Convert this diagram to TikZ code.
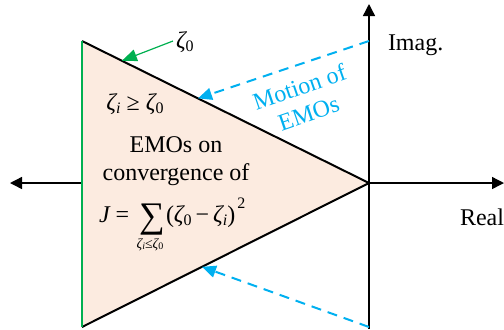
\documentclass[tikz,border=0pt]{standalone}
\usepackage{fontspec}
\setmainfont{Liberation Serif}
\usetikzlibrary{arrows.meta,calc}
\definecolor{peach}{RGB}{252,235,224}
\definecolor{emoblue}{RGB}{0,176,240}
\definecolor{emogreen}{RGB}{0,176,80}
\newcommand\mysb[1]{\raisebox{-0.35ex}{\fontsize{8}{8}\selectfont #1}}
\newcommand\zt{{\itshape ζ}}
\begin{document}
\begin{tikzpicture}[x=0.5pt,y=-0.5pt,
  every node/.style={inner sep=0pt,outer sep=0pt,font=\fontsize{12}{14}\selectfont},
  axis/.style={line width=0.7pt,-{Triangle[length=6pt,width=6pt]}},
  motion/.style={emoblue,line width=1pt,dash pattern=on 5pt off 3.5pt,-{Triangle[length=7pt,width=6pt]}},
  zeta0arrow/.style={emogreen,line width=0.6pt,-{Triangle[length=7.5pt,width=6pt]}}]
\useasboundingbox (0,0) rectangle (504,329);
\coordinate (TL) at (82,41);
\coordinate (BL) at (82,327);
\coordinate (O) at (369,183);
\coordinate (XL) at (10,183);
\coordinate (XR) at (504,183);
\coordinate (YT) at (369,4);
\coordinate (YB) at (369,329);
\coordinate (M1) at (369,41);
\coordinate (M2) at (369,327);
\coordinate (E1) at ($(TL)!0.404!(O)$);
\coordinate (E2) at ($(BL)!0.418!(O)$);
\coordinate (G0) at (173,41);
\coordinate (G1) at ($(TL)!0.139!(O)$);
\coordinate (AL) at (82,183);
% axes
\draw[axis] (AL) -- (XL);
\draw[axis] (O) -- (XR);
\draw[axis] (YB) -- (YT);
% triangle
\fill[peach] (TL) -- (O) -- (BL) -- cycle;
\draw[line width=1pt,line join=miter] (BL) -- (O) -- (TL);
\draw[emogreen,line width=0.8pt] (TL) -- (BL);
% arrows
\draw[motion] (M1) -- (E1);
\draw[motion] (M2) -- (E2);
\draw[zeta0arrow] (G0) -- (G1);
% labels
\node[anchor=base west] (z0) at (176,48) {\zt\mysb{0}};
\node[anchor=base] (cond) at (135,110) {\zt\mysb{\itshape i} ≥ \zt\mysb{0}};
\node[anchor=base] (emo1) at (176,152) {EMOs on};
\node[anchor=base] (emo2) at (176,180) {convergence of};
\node[anchor=base west] (J) at (99,222) {{\itshape J} = };
\node[anchor=base west] (sum) at (139,227) {\fontsize{18}{18}\selectfont ∑};
\node[anchor=base west] (rest) at (166,222) {(\zt\mysb{0}\,−\,\zt\mysb{\itshape i})\kern1pt\raisebox{1.2ex}{\fontsize{8}{8}\selectfont 2}};
\node[anchor=base] (lim) at (150,248) {\fontsize{7}{7}\selectfont \zt\raisebox{-0.3ex}{\fontsize{5}{5}\selectfont\itshape i}≤\zt\raisebox{-0.3ex}{\fontsize{5}{5}\selectfont 0}};
\node[anchor=base west] (imag) at (388,50) {Imag.};
\node[anchor=base west] (real) at (460,225) {Real};
\node[emoblue,rotate=19,align=center,font=\fontsize{12}{14}\selectfont] (mot) at (304,100) {Motion of\\EMOs};
\end{tikzpicture}
\end{document}
